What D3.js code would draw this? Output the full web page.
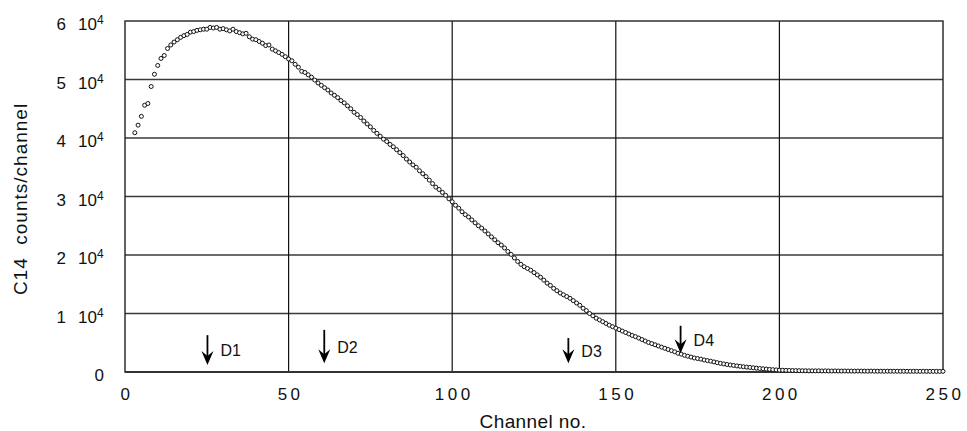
<!DOCTYPE html>
<html>
<head>
<meta charset="utf-8">
<script src="https://cdn.jsdelivr.net/npm/d3@7/dist/d3.min.js"></script>
<style>
  body { margin: 0; background: #fff; }
  text { font-family: "Liberation Sans", Arial, sans-serif; fill: #111; }
</style>
</head>
<body>
<div id="chart"></div>
<script>
// first channel that has a point; every later value is the next channel
const FIRST_CHANNEL = 3;

// C14 counts per channel, in thousands
const countsK = [
  40.9, 42.2, 43.7, 45.6, 45.9, 48.8, 50.9, 52.4,                  // 3-10
  53.6, 54.1, 55.3, 55.9, 56.4, 56.8, 57.2, 57.5, 57.7, 58.1,      // 11-20
  58.2, 58.4, 58.5, 58.6, 58.6, 58.9, 58.8, 58.9, 58.6, 58.7,      // 21-30
  58.5, 58.3, 58.6, 58.2, 58.0, 57.8, 57.9, 57.3, 56.9, 56.8,      // 31-40
  56.5, 56.2, 55.8, 55.9, 55.2, 54.9, 54.6, 54.3, 53.9, 53.5,      // 41-50
  53.2, 52.6, 52.1, 51.4, 51.2, 50.8, 50.4, 49.9, 49.4, 49.0,      // 51-60
  48.6, 48.2, 47.7, 47.3, 46.9, 46.4, 46.0, 45.5, 45.0, 44.4,      // 61-70
  44.0, 43.5, 42.9, 42.4, 41.9, 41.3, 40.8, 40.3, 39.8, 39.4,      // 71-80
  38.9, 38.5, 38.0, 37.5, 37.0, 36.4, 35.9, 35.4, 35.0, 34.4,      // 81-90
  33.9, 33.4, 32.8, 32.2, 31.6, 31.2, 30.7, 30.2, 29.6, 29.1,      // 91-100
  28.5, 28.0, 27.4, 26.9, 26.5, 26.0, 25.5, 25.0, 24.6, 24.1,      // 101-110
  23.6, 23.1, 22.6, 22.1, 21.7, 21.2, 20.6, 20.1, 19.5, 18.9,      // 111-120
  18.4, 18.0, 17.7, 17.4, 17.0, 16.6, 16.2, 15.7, 15.2, 14.8,      // 121-130
  14.3, 13.9, 13.5, 13.2, 12.9, 12.6, 12.2, 11.8, 11.4, 10.9,      // 131-140
  10.5, 10.0, 9.6, 9.2, 8.9, 8.6, 8.3, 8.0, 7.75, 7.5,             // 141-150
  7.25, 7.0, 6.75, 6.5, 6.25, 6.05, 5.8, 5.55, 5.3, 5.05,          // 151-160
  4.85, 4.65, 4.45, 4.25, 4.05, 3.85, 3.65, 3.45, 3.2, 3.05,       // 161-170
  2.85, 2.7, 2.55, 2.4, 2.3, 2.2, 2.05, 1.95, 1.85, 1.72,          // 171-180
  1.6, 1.48, 1.38, 1.28, 1.2, 1.12, 1.04, 0.97, 0.9, 0.84,         // 181-190
  0.78, 0.72, 0.66, 0.6, 0.55, 0.5, 0.45, 0.4, 0.36, 0.32,         // 191-200
  0.30, 0.28, 0.27, 0.25, 0.24, 0.23, 0.22, 0.21, 0.2, 0.2,        // 201-210
  0.19, 0.2, 0.18, 0.19, 0.18, 0.17, 0.18, 0.17, 0.16, 0.17,       // 211-220
  0.16, 0.16, 0.15, 0.16, 0.15, 0.15, 0.14, 0.15, 0.14, 0.14,      // 221-230
  0.14, 0.13, 0.14, 0.13, 0.13, 0.13, 0.12, 0.13, 0.12, 0.12,      // 231-240
  0.12, 0.12, 0.11, 0.12, 0.11, 0.11, 0.11, 0.11, 0.1, 0.11        // 241-250
];

// axis ticks
const xTicks = [0, 50, 100, 150, 200, 250];
const yTicksK = [0, 10, 20, 30, 40, 50, 60];
const yTickDigits = ["0", "1", "2", "3", "4", "5", "6"];

// detector arrows: channel, top and tip of the arrow (thousands of counts)
const arrowNames = ["D1", "D2", "D3", "D4"];
const arrowChannels = [25.2, 60.9, 135.5, 169.8];
const arrowTopK = [6.3, 7.2, 5.8, 7.9];
const arrowTipK = [1.2, 1.5, 1.5, 3.2];

const W = 967, H = 431;
const m = { top: 21, right: 24, bottom: 59, left: 125 };

const svg = d3.select("#chart").append("svg")
  .attr("width", W).attr("height", H);

const x = d3.scaleLinear().domain([0, 250]).range([m.left, W - m.right]);
const y = d3.scaleLinear().domain([0, 60]).range([H - m.bottom, m.top]);

// grid
svg.append("g").selectAll("line.h")
  .data(yTicksK.filter(v => v > 0 && v < 60))
  .enter().append("line")
  .attr("x1", x(0)).attr("x2", x(250))
  .attr("y1", d => y(d)).attr("y2", d => y(d))
  .attr("stroke", "#3a3a3a").attr("stroke-width", 1.3);

svg.append("g").selectAll("line.v")
  .data(xTicks.filter(v => v > 0 && v < 250))
  .enter().append("line")
  .attr("y1", y(0)).attr("y2", y(60))
  .attr("x1", d => x(d)).attr("x2", d => x(d))
  .attr("stroke", "#111").attr("stroke-width", 1.2);

// frame
svg.append("rect")
  .attr("x", x(0)).attr("y", y(60))
  .attr("width", x(250) - x(0)).attr("height", y(0) - y(60))
  .attr("fill", "none").attr("stroke", "#222").attr("stroke-width", 1.4);
svg.append("line")
  .attr("x1", x(0)).attr("x2", x(250)).attr("y1", y(0)).attr("y2", y(0))
  .attr("stroke", "#333").attr("stroke-width", 1.8);

// x tick labels (wide spaced digits)
svg.append("g").selectAll("text")
  .data(xTicks)
  .enter().append("text")
  .attr("x", d => x(d) + 2)
  .attr("y", 400)
  .attr("text-anchor", "middle")
  .style("font-size", "17px")
  .style("letter-spacing", "3.5px")
  .text(d => d);

// y tick labels: "n 10^4"
const yLab = svg.append("g");
yTicksK.forEach((v, i) => {
  const yy = y(v) + 9;
  if (v === 0) {
    yLab.append("text").attr("x", 104).attr("y", yy)
      .attr("text-anchor", "end").style("font-size", "17px").text("0");
    return;
  }
  yLab.append("text").attr("x", 66).attr("y", yy)
    .attr("text-anchor", "end").style("font-size", "17px").text(yTickDigits[i]);
  const t = yLab.append("text").attr("x", 78).attr("y", yy).style("font-size", "17px");
  t.append("tspan").text("10");
  t.append("tspan").attr("dy", -6).style("font-size", "12px").text("4");
});

// axis titles
svg.append("text")
  .attr("x", 533).attr("y", 428)
  .attr("text-anchor", "middle")
  .style("font-size", "19px")
  .style("letter-spacing", "0.4px")
  .text("Channel no.");

svg.append("text")
  .attr("transform", "translate(27,199) rotate(-90)")
  .attr("text-anchor", "middle")
  .style("font-size", "19px")
  .style("letter-spacing", "1px")
  .style("white-space", "pre")
  .text("C14  counts/channel");

// data points, open circles
svg.append("g").selectAll("circle")
  .data(countsK)
  .enter().append("circle")
  .attr("cx", (d, i) => x(FIRST_CHANNEL + i))
  .attr("cy", d => y(d))
  .attr("r", 2)
  .attr("fill", "#fff")
  .attr("stroke", "#111")
  .attr("stroke-width", 1);

// detector arrows
const ann = svg.append("g");
arrowNames.forEach((name, i) => {
  const ax = x(arrowChannels[i]);
  const top = y(arrowTopK[i]);
  const tip = y(arrowTipK[i]);
  ann.append("line")
    .attr("x1", ax).attr("x2", ax)
    .attr("y1", top).attr("y2", tip - 6)
    .attr("stroke", "#000").attr("stroke-width", 1.8);
  ann.append("path")
    .attr("d", `M${ax - 6},${tip - 14} L${ax},${tip} L${ax + 6},${tip - 14} L${ax},${tip - 9} Z`)
    .attr("fill", "#000");
  ann.append("text")
    .attr("x", ax + 13)
    .attr("y", (top + tip) / 2 + 6)
    .style("font-size", "16px")
    .text(name);
});
</script>
</body>
</html>
